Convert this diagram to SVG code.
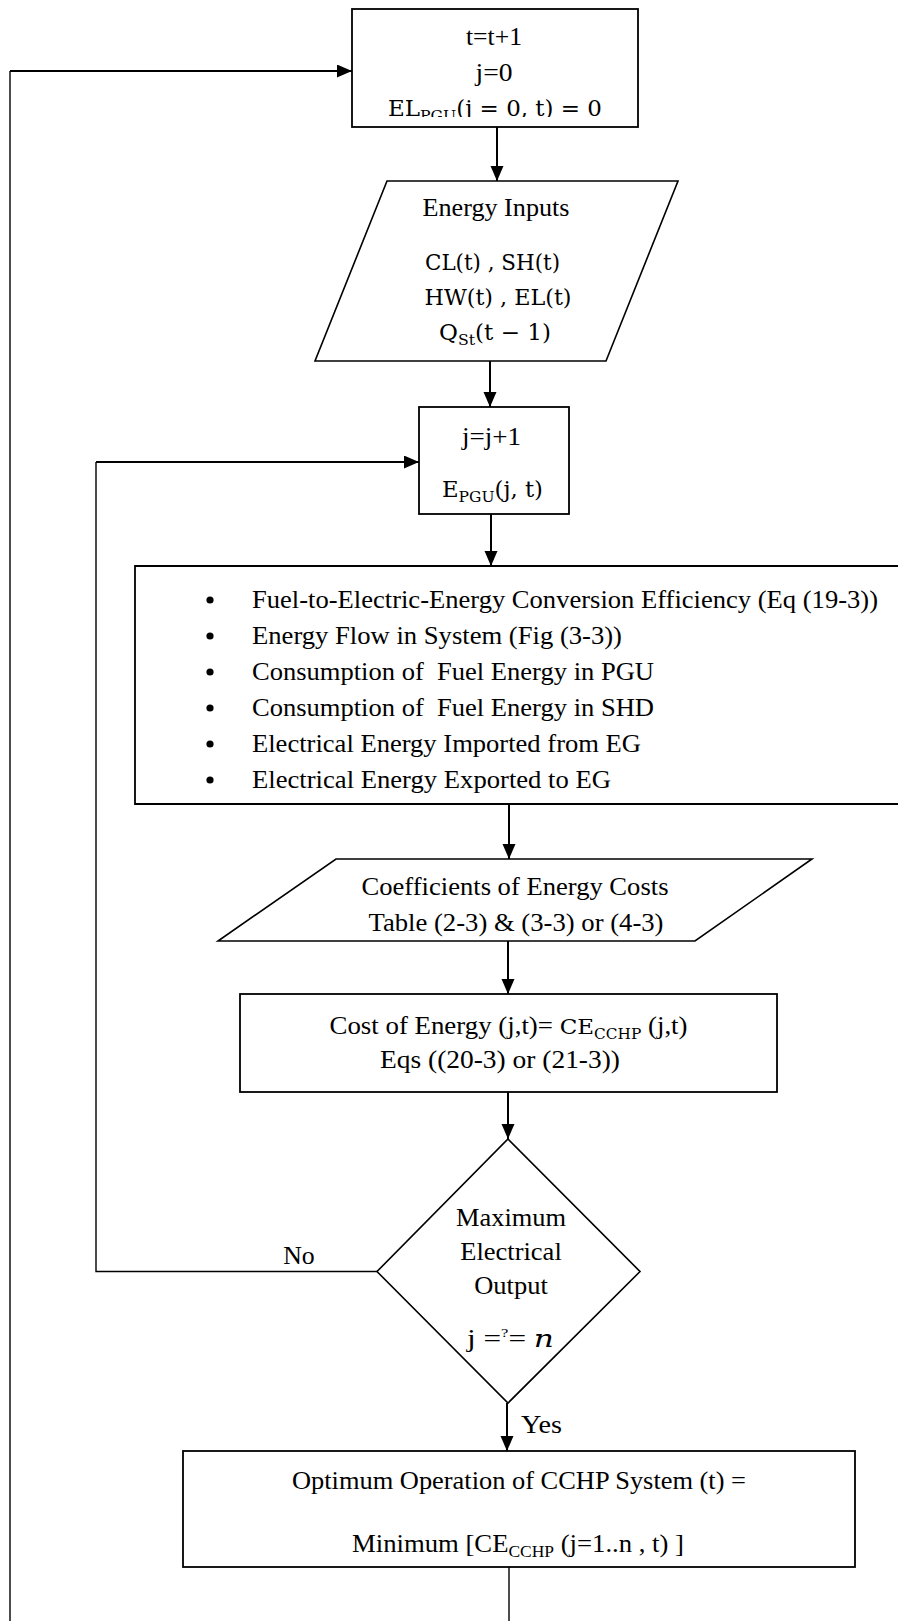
<svg xmlns="http://www.w3.org/2000/svg" width="898" height="1621" viewBox="0 0 898 1621">
  <defs>
    <style>
      .box { fill: #fff; stroke: #000; stroke-width: 1.8; }
      .shape { fill: #fff; stroke: #000; stroke-width: 1.6; }
      .t { font-family: "Liberation Serif", "Times New Roman", serif; font-size: 24.5px; fill: #000; }
      .m { font-family: "DejaVu Serif", "Liberation Serif", serif; font-size: 22px; fill: #000; }
      .c { text-anchor: middle; }
      .sub { font-size: 15px; }
      .link { fill: none; stroke: #000; stroke-width: 2; }
      .thin { fill: none; stroke: #000; stroke-width: 1.4; }
    </style>
    <marker id="ah" markerUnits="userSpaceOnUse" markerWidth="16" markerHeight="14" refX="15" refY="6.5" orient="auto">
      <path d="M0,0 L15,6.5 L0,13 z" fill="#000"/>
    </marker>
    <clipPath id="clipTop">
      <rect x="352" y="0" width="290" height="117"/>
    </clipPath>
  </defs>

  <rect width="898" height="1621" fill="#fff"/>

  <!-- connectors -->
  <g id="connectors">
    <path class="thin" d="M10,1621 V71"/>
    <path class="link" d="M10,71 H352" marker-end="url(#ah)"/>
    <path class="link" d="M497,127 V181" marker-end="url(#ah)"/>
    <path class="link" d="M490,361 V407" marker-end="url(#ah)"/>
    <path class="link" d="M491,514 V566" marker-end="url(#ah)"/>
    <path class="link" d="M509,804 V859" marker-end="url(#ah)"/>
    <path class="link" d="M508,941 V994" marker-end="url(#ah)"/>
    <path class="link" d="M508,1092 V1139" marker-end="url(#ah)"/>
    <path class="link" d="M507,1403 V1451" marker-end="url(#ah)"/>
    <path class="thin" d="M509,1567 V1621"/>
    <path class="thin" d="M377,1271.5 H96 V462"/>
    <path class="link" d="M96,462 H419" marker-end="url(#ah)"/>
    <text class="t" x="299" y="1264" text-anchor="middle" textLength="31.5" lengthAdjust="spacingAndGlyphs">No</text>
    <text class="t" x="521" y="1433" textLength="41" lengthAdjust="spacingAndGlyphs">Yes</text>
  </g>

  <!-- start of time step -->
  <g id="init">
    <rect class="box" x="352" y="9" width="286" height="118"/>
    <text class="t c" x="494" y="45" textLength="56" lengthAdjust="spacingAndGlyphs">t=t+1</text>
    <text class="t c" x="494" y="81" textLength="37" lengthAdjust="spacingAndGlyphs">j=0</text>
    <g clip-path="url(#clipTop)">
      <text class="m c" x="495" y="116" textLength="214" lengthAdjust="spacingAndGlyphs">EL<tspan class="sub" dy="5">PGU</tspan><tspan dy="-5">(j = 0, t) = 0</tspan></text>
    </g>
  </g>

  <!-- energy inputs -->
  <g id="inputs">
    <polygon class="shape" points="387,181 678,181 606,361 315,361"/>
    <text class="t c" x="496" y="216" textLength="147" lengthAdjust="spacingAndGlyphs">Energy Inputs</text>
    <text class="m c" x="492.5" y="270" textLength="135" lengthAdjust="spacingAndGlyphs">CL(t) , SH(t)</text>
    <text class="m c" x="498" y="305" textLength="147" lengthAdjust="spacingAndGlyphs">HW(t) , EL(t)</text>
    <text class="m c" x="495" y="340" textLength="112" lengthAdjust="spacingAndGlyphs">Q<tspan class="sub" dy="5">St</tspan><tspan dy="-5">(t − 1)</tspan></text>
  </g>

  <!-- step of PGU output -->
  <g id="step">
    <rect class="box" x="419" y="407" width="150" height="107"/>
    <text class="t c" x="491.5" y="445" textLength="59" lengthAdjust="spacingAndGlyphs">j=j+1</text>
    <text class="m c" x="492.5" y="497" textLength="101" lengthAdjust="spacingAndGlyphs">E<tspan class="sub" dy="5">PGU</tspan><tspan dy="-5">(j, t)</tspan></text>
  </g>

  <!-- energy calculations -->
  <g id="calc">
    <path class="box" d="M898,566 H135 V804 H898"/>
    <g fill="#000">
      <circle cx="210" cy="600" r="3.6"/>
      <circle cx="210" cy="636" r="3.6"/>
      <circle cx="210" cy="672" r="3.6"/>
      <circle cx="210" cy="708" r="3.6"/>
      <circle cx="210" cy="744" r="3.6"/>
      <circle cx="210" cy="780" r="3.6"/>
    </g>
    <text class="t" x="252" y="608" textLength="626" lengthAdjust="spacingAndGlyphs">Fuel-to-Electric-Energy Conversion Efficiency (Eq (19-3))</text>
    <text class="t" x="252" y="644" textLength="370" lengthAdjust="spacingAndGlyphs">Energy Flow in System (Fig (3-3))</text>
    <text class="t" x="252" y="680" textLength="402" lengthAdjust="spacingAndGlyphs">Consumption of&#160; Fuel Energy in PGU</text>
    <text class="t" x="252" y="716" textLength="402" lengthAdjust="spacingAndGlyphs">Consumption of&#160; Fuel Energy in SHD</text>
    <text class="t" x="252" y="752" textLength="389" lengthAdjust="spacingAndGlyphs">Electrical Energy Imported from EG</text>
    <text class="t" x="252" y="788" textLength="359" lengthAdjust="spacingAndGlyphs">Electrical Energy Exported to EG</text>
  </g>

  <!-- cost coefficients -->
  <g id="coeffs">
    <polygon class="shape" points="336,859 812,859 695,941 218,941"/>
    <text class="t c" x="515" y="895" textLength="307" lengthAdjust="spacingAndGlyphs">Coefficients of Energy Costs</text>
    <text class="t c" x="516" y="931" textLength="295" lengthAdjust="spacingAndGlyphs">Table (2-3) &amp; (3-3) or (4-3)</text>
  </g>

  <!-- cost of energy -->
  <g id="cost">
    <rect class="box" x="240" y="994" width="537" height="98"/>
    <text class="t c" x="508.5" y="1034" textLength="358" lengthAdjust="spacingAndGlyphs">Cost of Energy (j,t)= <tspan font-family="DejaVu Serif" font-size="21">CE</tspan><tspan font-family="DejaVu Serif" font-size="14" dy="5">CCHP</tspan><tspan dy="-5"> (j,t)</tspan></text>
    <text class="t c" x="500" y="1068" textLength="240" lengthAdjust="spacingAndGlyphs">Eqs ((20-3) or (21-3))</text>
  </g>

  <!-- decision -->
  <g id="decision">
    <polygon class="shape" points="508,1139 640,1271.5 508,1403 377,1271.5"/>
    <text class="t c" x="511" y="1226" textLength="110" lengthAdjust="spacingAndGlyphs">Maximum</text>
    <text class="t c" x="511" y="1260" textLength="101.5" lengthAdjust="spacingAndGlyphs">Electrical</text>
    <text class="t c" x="511" y="1294" textLength="73.6" lengthAdjust="spacingAndGlyphs">Output</text>
    <text class="t c" x="510.5" y="1347" textLength="87" lengthAdjust="spacingAndGlyphs">j =<tspan font-size="13" dy="-10">?</tspan><tspan dy="10">= </tspan><tspan font-family="DejaVu Serif" font-style="italic">n</tspan></text>
  </g>

  <!-- optimum -->
  <g id="optimum">
    <rect class="box" x="183" y="1451" width="672" height="116"/>
    <text class="t c" x="519" y="1489" textLength="454" lengthAdjust="spacingAndGlyphs">Optimum Operation of CCHP System (t) =</text>
    <text class="t c" x="518" y="1552" textLength="332" lengthAdjust="spacingAndGlyphs">Minimum [CE<tspan font-size="16" dy="5">CCHP</tspan><tspan dy="-5"> (j=1..n , t) ]</tspan></text>
  </g>
</svg>
